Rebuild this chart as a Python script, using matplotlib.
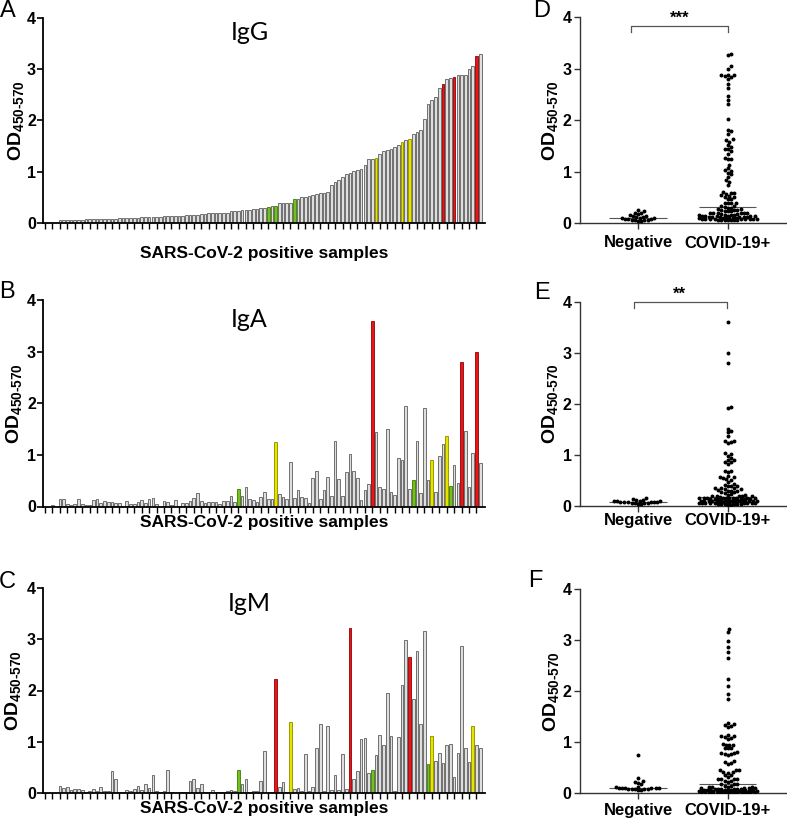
import numpy as np
import matplotlib
matplotlib.use('Agg')
import matplotlib.pyplot as plt

plt.rcParams['font.family'] = ['Liberation Sans', 'DejaVu Sans']
plt.rcParams['mathtext.fontset'] = 'custom'
plt.rcParams['mathtext.rm'] = 'Liberation Sans:bold'
plt.rcParams['mathtext.bf'] = 'Liberation Sans:bold'
plt.rcParams['mathtext.default'] = 'bf'

# OD values per SARS-CoV-2 positive sample (bar order as in the figure)
igg = [0, 0, 0, 0, 0.05, 0.05, 0.05, 0.05, 0.06, 0.06,
       0.06, 0.07, 0.07, 0.07, 0.07, 0.07, 0.07, 0.08, 0.08, 0.08,
       0.09, 0.09, 0.09, 0.09, 0.10, 0.10, 0.11, 0.12, 0.12, 0.12,
       0.12, 0.12, 0.13, 0.14, 0.14, 0.14, 0.14, 0.14, 0.16, 0.16,
       0.16, 0.16, 0.18, 0.18, 0.19, 0.19, 0.19, 0.20, 0.20, 0.20,
       0.23, 0.23, 0.24, 0.25, 0.26, 0.26, 0.27, 0.27, 0.30, 0.30,
       0.31, 0.33, 0.34, 0.39, 0.39, 0.39, 0.39, 0.46, 0.46, 0.50,
       0.50, 0.52, 0.54, 0.56, 0.58, 0.59, 0.60, 0.73, 0.79, 0.83,
       0.90, 0.95, 0.98, 1.02, 1.03, 1.06, 1.12, 1.24, 1.25, 1.26,
       1.35, 1.40, 1.43, 1.44, 1.47, 1.52, 1.58, 1.61, 1.63, 1.73,
       1.78, 1.81, 2.03, 2.31, 2.39, 2.46, 2.62, 2.71, 2.80, 2.83,
       2.85, 2.88, 2.88, 2.88, 3.00, 3.05, 3.26, 3.29]

iga = [0, 0, 0.03, 0, 0.14, 0.15, 0.05, 0.03, 0.05, 0.14,
       0.05, 0.03, 0.03, 0.13, 0.15, 0.07, 0.10, 0.09, 0.09, 0.06,
       0.06, 0.01, 0.11, 0.05, 0.04, 0.09, 0.12, 0.06, 0.15, 0.17,
       0.05, 0, 0.10, 0.08, 0.03, 0.13, 0.01, 0.07, 0.07, 0.10,
       0.16, 0.27, 0.10, 0.07, 0.09, 0.09, 0.09, 0.05, 0.10, 0.10,
       0.20, 0.09, 0.34, 0.21, 0.38, 0.15, 0.13, 0.09, 0.19, 0.28,
       0.15, 0.14, 1.24, 0.25, 0.19, 0.15, 0.86, 0.16, 0.32, 0.19,
       0.16, 0.06, 0.56, 0.69, 0.15, 0.32, 0.58, 0.21, 1.26, 0.54,
       0.20, 0.66, 1.01, 0.68, 0.56, 0.13, 0.31, 0.43, 3.60, 1.44,
       0.38, 0.34, 1.51, 0.29, 0.22, 0.94, 0.90, 1.94, 0.34, 0.52,
       1.26, 0.27, 1.91, 0.51, 0.90, 0.29, 0.98, 1.22, 1.36, 0.40,
       0.81, 0.46, 2.79, 1.47, 0.38, 1.03, 2.99, 0.85]

igm = [0, 0, 0, 0, 0.13, 0.10, 0.12, 0.05, 0.07, 0.08,
       0.05, 0.02, 0.03, 0.08, 0.04, 0.12, 0.03, 0.04, 0.42, 0.27,
       0.01, 0.01, 0.05, 0.03, 0.08, 0.14, 0.05, 0.18, 0.10, 0.36,
       0.03, 0.01, 0.03, 0.45, 0.01, 0, 0.01, 0.02, 0.01, 0.24,
       0.27, 0.10, 0.17, 0.01, 0.01, 0.05, 0.01, 0.01, 0.01, 0.03,
       0.06, 0.03, 0.45, 0.18, 0.27, 0.01, 0.03, 0.03, 0.24, 0.81,
       0.01, 0.01, 2.23, 0.12, 0.22, 0.01, 1.38, 0.07, 0.10, 0.04,
       0.77, 0.03, 0.12, 0.88, 1.35, 0.03, 1.30, 0.05, 0.36, 0.06,
       0.77, 0.08, 3.22, 0.28, 0.42, 1.06, 1.08, 0.40, 0.45, 0.75,
       1.14, 0.94, 1.95, 1.12, 0.03, 1.10, 2.11, 2.99, 2.66, 1.84,
       2.77, 1.34, 3.16, 0.56, 1.12, 0.62, 0.79, 0.59, 0.94, 0.96,
       0.32, 0.78, 2.87, 0.88, 0.60, 1.31, 0.94, 0.88]

# highlighted samples (bar index)
red_g, yellow_g, green_g = [107, 110, 116], [89, 96, 98], [60, 62, 67]
red_a, yellow_a, green_a = [88, 112, 116], [62, 104, 108], [52, 99, 109]
red_m, yellow_m, green_m = [62, 82, 98], [66, 104, 115], [52, 88, 103]

# negative controls for the dot plots
neg_g = [0.25, 0.23, 0.20, 0.19, 0.17, 0.15, 0.14, 0.13, 0.12, 0.11, 0.10,
         0.10, 0.09, 0.08, 0.08, 0.07, 0.06, 0.06, 0.05, 0.05, 0.04, 0.04]
neg_a = [0.15, 0.13, 0.12, 0.11, 0.10, 0.10, 0.09, 0.09, 0.08, 0.08,
         0.08, 0.07, 0.07, 0.07, 0.06, 0.06, 0.05, 0.05, 0.04, 0.04]
neg_m = [0.75, 0.30, 0.23, 0.21, 0.20, 0.17, 0.12, 0.11, 0.10, 0.10, 0.10,
         0.09, 0.09, 0.09, 0.08, 0.08, 0.08, 0.07, 0.07, 0.06, 0.05]

groups = ['Negative', 'COVID-19+']
W, H = 787, 823
fig = plt.figure(figsize=(W / 100, H / 100), dpi=100)


def px_axes(left, top, right, bottom):
    return fig.add_axes([left / W, 1 - bottom / H, (right - left) / W, (bottom - top) / H])


def style_y(ax):
    ax.set_ylim(0, 4)
    ax.set_yticks(range(5))
    for s in ['top', 'right']:
        ax.spines[s].set_visible(False)
    for lab in ax.get_yticklabels():
        lab.set_fontweight('bold')
        lab.set_fontsize(11.5)


def bar_panel(top, bottom, vals, red, yellow, green, name, title_y, xlab_y, ylab_x):
    ax = px_axes(43, top, 485, bottom)
    x = np.arange(len(vals))
    face = ['#dedede'] * len(vals)
    edge = ['#707070'] * len(vals)
    for idx in red:
        face[idx], edge[idx] = '#e8151b', '#a01212'
    for idx in yellow:
        face[idx], edge[idx] = '#e6e300', '#9c9a00'
    for idx in green:
        face[idx], edge[idx] = '#74c01c', '#4d8a12'
    ax.bar(x, vals, width=0.72, color=face, edgecolor=edge, linewidth=0.7)
    ax.set_xlim(-0.54, 118.3)
    ax.set_xticks(x[::2])
    ax.set_xticklabels([])
    ax.tick_params(axis='x', length=4, width=1)
    ax.tick_params(axis='y', length=4, width=1.2, pad=1)
    style_y(ax)
    for s in ['left', 'bottom']:
        ax.spines[s].set_linewidth(1.3)
    ax.text(55, title_y, name, fontsize=18, family='Lato', ha='center', va='center')
    fig.text(264 / W, 1 - xlab_y / H, 'SARS-CoV-2 positive samples',
             fontsize=12.5, fontweight='bold', ha='center', va='center')
    fig.text(ylab_x / W, 1 - (top + bottom) / 2 / H, 'OD$_{450\u2010570}$',
             fontsize=14, fontweight='bold', rotation=90, ha='center', va='center')
    return ax


def swarm(vals, center, d=3.2, maxw=30.0, xs_px=89.7, ys_px=51.3):
    # beeswarm offsets in pixels, kept within +-maxw
    vals = np.asarray(vals, dtype=float)
    xs = np.zeros(len(vals))
    placed = []
    step = d / 2
    cands = [0.0]
    k = 1
    while k * step <= maxw:
        cands += [k * step, -k * step]
        k += 1
    for i in np.argsort(vals):
        y = vals[i] * ys_px
        near = [(px, py) for px, py in placed if abs(py - y) < d]
        best, best_gap = 0.0, -1.0
        for off in cands:
            gap = min([np.hypot(off - px, y - py) for px, py in near] or [99.0])
            if gap >= d:
                best = off
                break
            if gap > best_gap:
                best, best_gap = off, gap
        placed.append((best, y))
        xs[i] = center + best / xs_px
    return xs


def dot_panel(top, bottom, neg, pos, ylab_x, tick_pad):
    ax = px_axes(580, top, 787, bottom)
    pos = [v for v in pos if v > 0]
    for c, vals in enumerate([neg, pos]):
        ax.scatter(swarm(vals, c), vals, s=8, color='black', linewidths=0, zorder=3)
        ax.hlines(np.median(vals), c - 0.32, c + 0.32, color='#555555', lw=0.8, zorder=2)
    ax.set_xlim(-0.647, 1.661)
    ax.set_xticks([0, 1])
    ax.set_xticklabels(groups, fontweight='bold', fontsize=12)
    ax.tick_params(axis='x', length=4, width=1, pad=tick_pad, colors='#333333', labelcolor='black')
    ax.tick_params(axis='y', length=4, width=1, pad=2, colors='#333333', labelcolor='black')
    style_y(ax)
    for s in ['left', 'bottom']:
        ax.spines[s].set_color('#333333')
        ax.spines[s].set_linewidth(1.0)
    fig.text(ylab_x / W, 1 - (top + bottom) / 2 / H, 'OD$_{450\u2010570}$',
             fontsize=14, fontweight='bold', rotation=90, ha='center', va='center')
    return ax


bar_panel(17.5, 223, igg, red_g, yellow_g, green_g, 'IgG', 3.7, 253, 16)
bar_panel(300, 506.5, iga, red_a, yellow_a, green_a, 'IgA', 3.62, 522, 13.5)
bar_panel(588, 793, igm, red_m, yellow_m, green_m, 'IgM', 3.7, 808, 13)

axd = dot_panel(17.3, 223, neg_g, igg, 550, 5)
axd.plot([-0.08, -0.08, 1, 1], [3.72, 3.84, 3.84, 3.72], color='#555555', lw=0.9, clip_on=False)
axd.text(0.46, 3.98, '***', ha='center', va='center', fontweight='bold', fontsize=12, clip_on=False)

axe = dot_panel(301.7, 505.7, neg_a, iga, 550, 1.5)
axe.plot([-0.05, -0.05, 0.99, 0.99], [3.88, 4.0, 4.0, 3.88], color='#555555', lw=0.9, clip_on=False)
axe.text(0.46, 4.14, '**', ha='center', va='center', fontweight='bold', fontsize=12, clip_on=False)

dot_panel(589.3, 793, neg_m, igm, 551, 3.5)

for letter, xp, yp in [('A', 8, 11), ('B', 7, 292), ('C', 7, 582),
                       ('D', 542, 11), ('E', 542, 293), ('F', 535, 581)]:
    fig.text(xp / W, 1 - yp / H, letter, fontsize=17, ha='center', va='center')

fig.savefig('out.png', dpi=100)
